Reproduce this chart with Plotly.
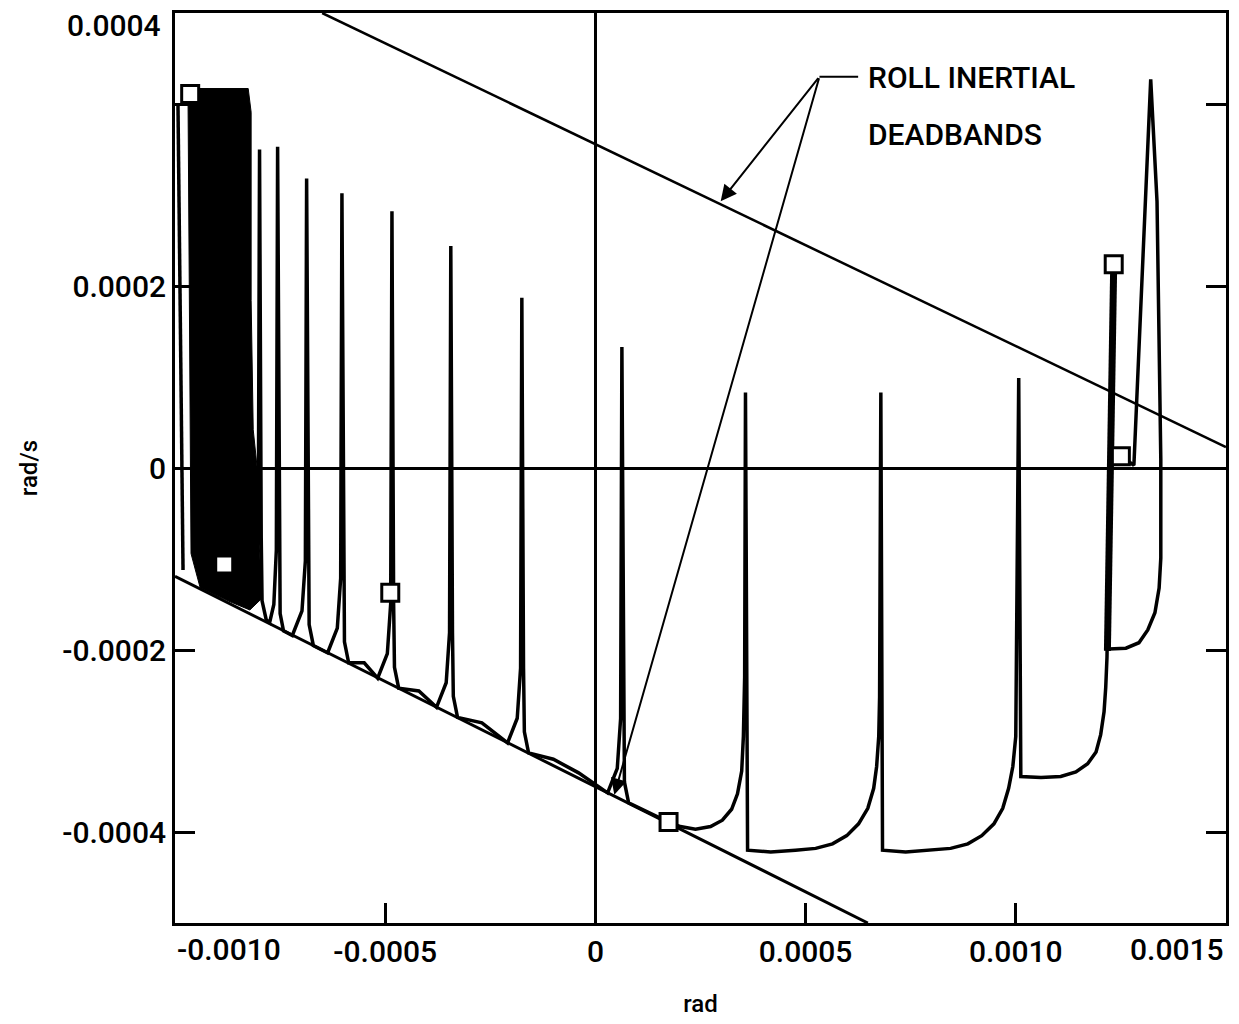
import plotly.graph_objects as go

U = 1e-6  # values below are in micro-units (µrad, µrad/s)

# Deadband lines (rad, rad/s) in micro-units
upper_db_x = [-650, 1500]
upper_db_y = [500, 23]
lower_db_x = [-1000, 648]
lower_db_y = [-119, -500]

# Dense oscillation region at the start (outline)
block_x = [-969, -964, -826, -819, -819, -814, -802, -802, -793, -822, -869, -940, -962, -969]
block_y = [400, 417, 417, 391, 184, 42, -12, -66, -143, -156, -147, -132, -94, 400]

# Trajectory (segments separated by None)
traj_x = [
    -993, -981, None,
    -833, -810, -802, -799, -795, -793, -783,
    -775, -765, -759, -756, -752, -750, -742,
    -721, -698, -690, -687, -683, -681, -671,
    -637, -614, -606, -603, -599, -597, -587,
    -550,
    -518, -495, -487, -484, -480, -478, -468,
    -420,
    -378, -355, -347, -344, -340, -338, -328,
    -270,
    -209, -186, -178, -175, -171, -169, -159,
    -100, -40,
    29, 52, 60, 63, 67, 69, 79,
    174, 202, 238, 274, 302, 324, 338, 348, 352, 355, 357, 362,
    417, 476, 524, 564, 598, 626, 648, 662, 669, 674, 676, 679, 683,
    738, 798, 845, 886, 919, 948, 969, 983, 993, 1000, 1007, 1012,
    1060, 1107, 1143, 1171, 1191, 1202, 1210, 1214, 1217, 1233, None,
    1250, 1281, 1321, 1336, 1345, 1345, 1341, 1331, 1314, 1293, 1262, 1221,
]
traj_y = [
    399, -112, None,
    -153, -131, -76, 350, -76, -146, -167,
    -170, -150, -90, 353, -90, -160, -179,
    -184, -157, -102, 318, -102, -172, -195,
    -203, -176, -121, 302, -121, -191, -214,
    -214,
    -231, -204, -149, 282, -149, -219, -242,
    -245,
    -263, -236, -181, 244, -181, -251, -274,
    -280,
    -302, -275, -220, 187, -220, -290, -313,
    -320, -335,
    -357, -330, -275, 133, -275, -345, -368,
    -389, -394, -397, -394, -387, -375, -358, -333, -295, -230, 83, -420,
    -422, -420, -418, -413, -404, -391, -374, -352, -328, -295, -252, 83, -420,
    -422, -420, -418, -413, -404, -391, -374, -352, -328, -295, 99, -339,
    -340, -339, -334, -325, -312, -293, -268, -241, -208, 224, None,
    13, 3, 427, 293, 10, -99, -132, -159, -178, -192, -198, -199,
]

# Heavily retraced final firing segment
thick_x = [1218, 1233]
thick_y = [-201, 224]

# Square markers
sq_x = [-964, -883, -488, 174, 1233, 1250]
sq_y = [411, -106, -137, -389, 224, 13]

# Axis ticks
x_ticks = [-0.0010, -0.0005, 0, 0.0005, 0.0010, 0.0015]
x_ticktext = ["-0.0010", "-0.0005", "0", "0.0005", "0.0010", "0.0015"]
y_ticks = [-0.0004, -0.0002, 0, 0.0002, 0.0004]
y_ticktext = ["-0.0004", "-0.0002", "0", "0.0002", "0.0004"]


def sc(v):
    return [None if a is None else a * U for a in v]


FONT = "Roboto, 'Liberation Sans', sans-serif"
TICKFONT = dict(family=FONT, size=30, color="black", weight=500)

fig = go.Figure()
fig.add_trace(go.Scatter(x=sc(block_x), y=sc(block_y), mode="lines", fill="toself",
                         fillcolor="black", line=dict(color="black", width=1), hoverinfo="skip"))
fig.add_trace(go.Scatter(x=sc(upper_db_x), y=sc(upper_db_y), mode="lines",
                         line=dict(color="black", width=2.5)))
fig.add_trace(go.Scatter(x=sc(lower_db_x), y=sc(lower_db_y), mode="lines",
                         line=dict(color="black", width=3)))
fig.add_trace(go.Scatter(x=sc(traj_x), y=sc(traj_y), mode="lines", connectgaps=False,
                         line=dict(color="black", width=3.5)))
fig.add_trace(go.Scatter(x=sc(thick_x), y=sc(thick_y), mode="lines",
                         line=dict(color="black", width=7)))
fig.add_trace(go.Scatter(x=sc(sq_x), y=sc(sq_y), mode="markers",
                         marker=dict(symbol="square", size=17, color="white",
                                     line=dict(color="black", width=3))))

# Edge tick labels placed as in the original drawing
fig.add_annotation(x=0, y=-0.0295, xref="paper", yref="paper", text=x_ticktext[0],
                   showarrow=False, xanchor="left", yanchor="middle", font=TICKFONT)
fig.add_annotation(x=1, y=-0.0295, xref="paper", yref="paper", text=x_ticktext[-1],
                   showarrow=False, xanchor="right", yanchor="middle", font=TICKFONT)
fig.add_annotation(x=-0.0115, y=0.986, xref="paper", yref="paper", text=y_ticktext[-1],
                   showarrow=False, xanchor="right", yanchor="middle", font=TICKFONT)

fig.add_annotation(x=0.000643, y=0.000429, xref="x", yref="y", text="ROLL INERTIAL",
                   showarrow=False, xanchor="left", yanchor="middle",
                   font=dict(family=FONT, size=30, color="black", weight=500))
fig.add_annotation(x=0.000643, y=0.000366, xref="x", yref="y", text="DEADBANDS",
                   showarrow=False, xanchor="left", yanchor="middle",
                   font=dict(family=FONT, size=30, color="black", weight=500))
fig.add_annotation(x=0.000298, y=0.000293, ax=0.000533, ay=0.000430, xref="x", yref="y",
                   axref="x", ayref="y", text="", showarrow=True, arrowhead=2,
                   arrowsize=1.6, arrowwidth=2, arrowcolor="black")
fig.add_annotation(x=0.000045, y=-0.000359, ax=0.000533, ay=0.000430, xref="x", yref="y",
                   axref="x", ayref="y", text="", showarrow=True, arrowhead=2,
                   arrowsize=1.6, arrowwidth=2, arrowcolor="black")
fig.add_shape(type="line", x0=0.000533, y0=0.000430, x1=0.000625, y1=0.000430,
              xref="x", yref="y", line=dict(color="black", width=2))

fig.update_layout(
    width=1239, height=1024,
    margin=dict(l=175, r=12, t=10, b=96),
    paper_bgcolor="white", plot_bgcolor="white",
    showlegend=False,
    font=dict(family=FONT, size=28, color="black"),
    xaxis=dict(range=[-0.0010001, 0.0015001], tickvals=x_ticks,
               ticktext=[""] + x_ticktext[1:-1] + [""],
               ticks="inside", ticklen=20, tickwidth=2.5, tickcolor="black",
               showline=True, linecolor="black", linewidth=3, mirror=True,
               showgrid=False, zeroline=True, zerolinecolor="black", zerolinewidth=2.5,
               title=dict(text="rad", font=dict(size=24, weight=500), standoff=28),
               tickfont=TICKFONT),
    yaxis=dict(range=[-0.0005, 0.0005], tickvals=y_ticks,
               ticktext=y_ticktext[:-1] + [""],
               ticks="inside", ticklen=20, tickwidth=2.5, tickcolor="black",
               showline=True, linecolor="black", linewidth=3, mirror="ticks",
               showgrid=False, zeroline=True, zerolinecolor="black", zerolinewidth=2.5,
               title=dict(text="rad/s", font=dict(size=24, weight=500), standoff=18),
               tickfont=TICKFONT),
)

fig.write_html("out.html")
